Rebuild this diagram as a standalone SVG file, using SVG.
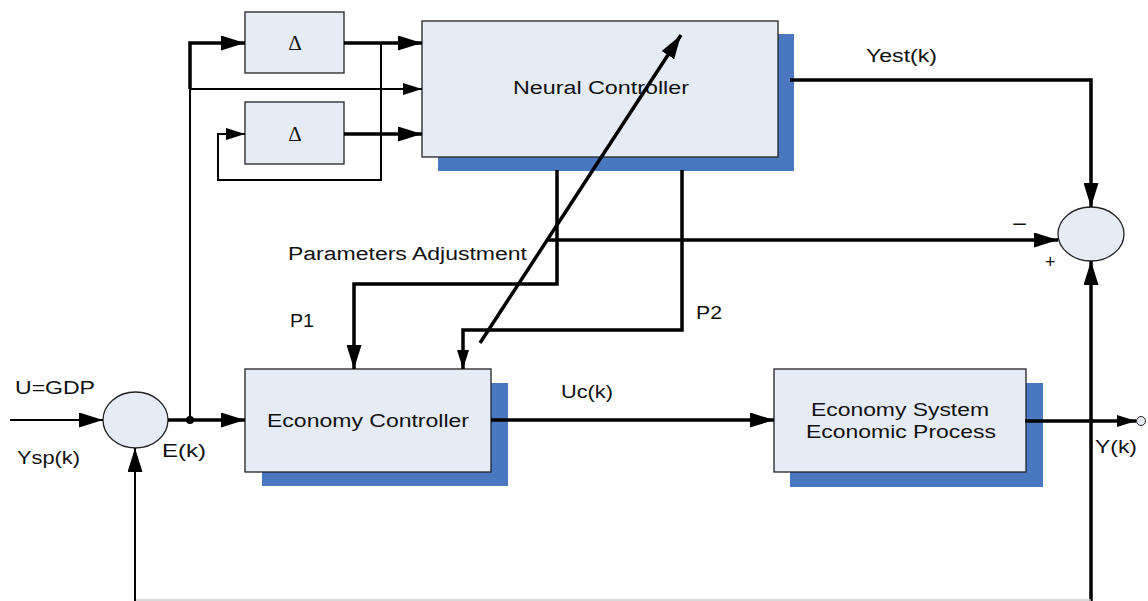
<svg xmlns="http://www.w3.org/2000/svg" width="1148" height="601" viewBox="0 0 1148 601">
<style>
.box{fill:#e6ecf6;stroke:#222;stroke-width:1.3}
.shadow{fill:#4a78c0}
.sum{fill:#e6ecf6;stroke:#222;stroke-width:1.3}
.thick{fill:none;stroke:#000;stroke-width:3.5}
.thin{fill:none;stroke:#000;stroke-width:2}
.t{font-family:"Liberation Sans",Arial,sans-serif;font-size:18px;fill:#111}
.d{font-family:"Liberation Serif","Times New Roman",serif;font-size:21px;fill:#111}
</style>
<defs>
<marker id="a" markerUnits="userSpaceOnUse" markerWidth="24" markerHeight="15" refX="24" refY="7.5" orient="auto">
<path d="M0,0 L24,7.5 L0,15 z" fill="#000"/>
</marker>
<marker id="s" markerUnits="userSpaceOnUse" markerWidth="19" markerHeight="12" refX="19" refY="6" orient="auto">
<path d="M0,0 L19,6 L0,12 z" fill="#000"/>
</marker>
</defs>
<rect width="1148" height="601" fill="#fff"/>

<g id="delta1">
<rect class="box" x="245" y="12" width="99" height="61"/>
<text class="d" x="295" y="50" text-anchor="middle">Δ</text>
</g>
<g id="delta2">
<rect class="box" x="245" y="102" width="99" height="62"/>
<text class="d" x="295" y="141" text-anchor="middle">Δ</text>
</g>
<g id="neural">
<rect class="shadow" x="438" y="34" width="356" height="137"/>
<rect class="box" x="422" y="21" width="356" height="136"/>
<text class="t" x="513" y="94" textLength="176" lengthAdjust="spacingAndGlyphs">Neural Controller</text>
</g>
<g id="econctrl">
<rect class="shadow" x="262" y="383" width="246" height="103"/>
<rect class="box" x="245" y="369" width="246" height="103"/>
<text class="t" x="267" y="427" textLength="202" lengthAdjust="spacingAndGlyphs">Economy Controller</text>
</g>
<g id="econsys">
<rect class="shadow" x="790" y="383" width="253" height="104"/>
<rect class="box" x="774" y="369" width="252" height="103"/>
<text class="t" x="811" y="416" textLength="178" lengthAdjust="spacingAndGlyphs">Economy System</text>
<text class="t" x="806" y="438" textLength="190" lengthAdjust="spacingAndGlyphs">Economic Process</text>
</g>
<g id="sum1">
<ellipse class="sum" cx="135.5" cy="420" rx="32.5" ry="28"/>
</g>
<g id="sum2">
<ellipse class="sum" cx="1091" cy="234" rx="33" ry="27"/>
</g>
<g id="outnode">
<circle cx="1141" cy="421" r="4.5" fill="#e6ecf6" stroke="#222" stroke-width="1"/>
</g>

<g id="connectors">
<line class="thin" x1="10" y1="420" x2="103" y2="420" marker-end="url(#a)"/>
<line class="thick" x1="168" y1="420" x2="245" y2="420" marker-end="url(#a)"/>
<circle cx="190" cy="420" r="4" fill="#000"/>
<polyline class="thin" points="190,420 190,89"/>
<polyline class="thick" points="190,89 190,43 245,43" marker-end="url(#a)"/>
<line class="thin" x1="190" y1="89" x2="422" y2="89" marker-end="url(#s)"/>
<line class="thick" x1="344" y1="43" x2="422" y2="43" marker-end="url(#a)"/>
<polyline class="thin" points="381,43 381,180 218,180 218,134 245,134" marker-end="url(#s)"/>
<line class="thick" x1="344" y1="134" x2="422" y2="134" marker-end="url(#a)"/>
<polyline class="thick" points="790,80 1091,80 1091,207" marker-end="url(#a)"/>
<polyline class="thick" points="557,170 557,284 354,284 354,369" marker-end="url(#a)"/>
<polyline class="thick" points="682,170 682,330 463,330 463,369" marker-end="url(#s)"/>
<line class="thick" x1="480" y1="343" x2="681" y2="35" marker-end="url(#a)"/>
<line class="thick" x1="548" y1="240" x2="1058" y2="240" marker-end="url(#a)"/>
<line class="thick" x1="491" y1="420" x2="774" y2="420" marker-end="url(#a)"/>
<line class="thick" x1="1025" y1="421" x2="1136" y2="421" marker-end="url(#s)"/>
<line class="thick" x1="1091" y1="601" x2="1091" y2="261" marker-end="url(#a)"/>
<line x1="135" y1="600" x2="1091" y2="600" stroke="#ccc" stroke-width="1.5"/>
<line class="thin" x1="135" y1="601" x2="135" y2="448" marker-end="url(#a)"/>
</g>

<g id="labels">
<text class="t" x="866" y="62" textLength="71" lengthAdjust="spacingAndGlyphs">Yest(k)</text>
<text class="t" x="288" y="260" textLength="239" lengthAdjust="spacingAndGlyphs">Parameters Adjustment</text>
<text class="t" x="290" y="327" textLength="24" lengthAdjust="spacingAndGlyphs">P1</text>
<text class="t" x="696" y="319" textLength="26" lengthAdjust="spacingAndGlyphs">P2</text>
<text class="t" x="561" y="398" textLength="52" lengthAdjust="spacingAndGlyphs">Uc(k)</text>
<text class="t" x="15" y="394" textLength="80" lengthAdjust="spacingAndGlyphs">U=GDP</text>
<text class="t" x="17" y="464" textLength="63" lengthAdjust="spacingAndGlyphs">Ysp(k)</text>
<text class="t" x="162" y="457" textLength="44" lengthAdjust="spacingAndGlyphs">E(k)</text>
<text class="t" x="1095" y="453" textLength="42" lengthAdjust="spacingAndGlyphs">Y(k)</text>
<text class="t" x="1012" y="230" textLength="15" lengthAdjust="spacingAndGlyphs">−</text>
<text class="t" x="1045" y="268" font-size="15">+</text>
</g>
</svg>
